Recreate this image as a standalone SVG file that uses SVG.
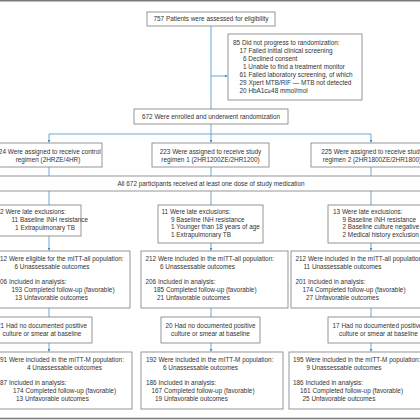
<svg xmlns="http://www.w3.org/2000/svg" width="420" height="420" viewBox="0 0 420 420">
<defs>
<style>
.box{fill:#fff;stroke:#8a8a8a;stroke-width:0.9}
.t{font-family:"Liberation Sans",Arial,sans-serif;font-size:6.4px;fill:#333}
.c{text-anchor:middle}
.ln{stroke:#5a9fd2;stroke-width:0.9;fill:none}
.rule{stroke:#7a7a7a;stroke-width:1.5}
</style>
<marker id="ah" viewBox="0 0 6 6" refX="6" refY="3" markerWidth="3" markerHeight="3" orient="auto" markerUnits="userSpaceOnUse"><path d="M0,0L6,3L0,6z" fill="#3f86bd"/></marker>
</defs>
<rect width="420" height="420" fill="#fff"/>
<line class="rule" x1="0" y1="0.75" x2="420" y2="0.75"/>
<line class="rule" x1="0" y1="418.5" x2="420" y2="418.5"/>

<g id="connectors">
<line class="ln" x1="211" y1="26" x2="211" y2="109"/>
<line class="ln" x1="211" y1="76" x2="227.5" y2="76" marker-end="url(#ah)"/>
<line class="ln" x1="211" y1="124" x2="211" y2="134"/>
<line class="ln" x1="49" y1="134" x2="371" y2="134"/>
<line class="ln" x1="49" y1="134" x2="49" y2="142.5" marker-end="url(#ah)"/>
<line class="ln" x1="211" y1="134" x2="211" y2="142.5" marker-end="url(#ah)"/>
<line class="ln" x1="371" y1="134" x2="371" y2="142.5" marker-end="url(#ah)"/>
<line class="ln" x1="49" y1="167" x2="49" y2="176"/>
<line class="ln" x1="211" y1="167" x2="211" y2="176"/>
<line class="ln" x1="371" y1="167" x2="371" y2="176"/>
<line class="ln" x1="49" y1="191" x2="49" y2="205"/>
<line class="ln" x1="211" y1="191" x2="211" y2="205"/>
<line class="ln" x1="371" y1="191" x2="371" y2="205"/>
<line class="ln" x1="49" y1="236" x2="49" y2="250.5" marker-end="url(#ah)"/>
<line class="ln" x1="211" y1="243" x2="211" y2="250.5" marker-end="url(#ah)"/>
<line class="ln" x1="371" y1="243" x2="371" y2="250.5" marker-end="url(#ah)"/>
<line class="ln" x1="49" y1="308" x2="49" y2="317"/>
<line class="ln" x1="211" y1="308" x2="211" y2="317"/>
<line class="ln" x1="371" y1="308" x2="371" y2="317"/>
<line class="ln" x1="49" y1="343" x2="49" y2="351.5" marker-end="url(#ah)"/>
<line class="ln" x1="211" y1="343" x2="211" y2="351.5" marker-end="url(#ah)"/>
<line class="ln" x1="371" y1="343" x2="371" y2="351.5" marker-end="url(#ah)"/>
</g>

<g id="assessed">
<rect class="box" x="147" y="12" width="128" height="14"/>
<text class="t c" x="211" y="21.2">757 Patients were assessed for eligibility</text>
</g>

<g id="not-randomized">
<rect class="box" x="228" y="34" width="134" height="66"/>
<text class="t" x="233" y="45">85 Did not progress to randomization:</text>
<text class="t" x="239.5" y="53">17 Failed initial clinical screening</text>
<text class="t" x="243" y="61">6 Declined consent</text>
<text class="t" x="243" y="69">1 Unable to find a treatment monitor</text>
<text class="t" x="239.5" y="77">61 Failed laboratory screening, of which</text>
<text class="t" x="239.5" y="85">29 Xpert MTB/RIF — MTB not detected</text>
<text class="t" x="239.5" y="93">20 HbA1c≥48 mmol/mol</text>
</g>

<g id="randomized">
<rect class="box" x="134" y="109" width="154" height="15"/>
<text class="t c" x="211" y="118.7">672 Were enrolled and underwent randomization</text>
</g>

<g id="control">
<rect class="box" x="-6" y="143" width="108" height="24"/>
<text class="t c" x="48" y="154">224 Were assigned to receive control</text>
<text class="t c" x="48" y="162">regimen (2HRZE/4HR)</text>
</g>
<g id="regimen1">
<rect class="box" x="152" y="143" width="117" height="24"/>
<text class="t c" x="210.5" y="154">223 Were assigned to receive study</text>
<text class="t c" x="210.5" y="162">regimen 1 (2HR1200ZE/2HR1200)</text>
</g>
<g id="regimen2">
<rect class="box" x="311" y="143" width="122" height="24"/>
<text class="t c" x="372" y="154">225 Were assigned to receive study</text>
<text class="t c" x="372" y="162">regimen 2 (2HR1800ZE/2HR1800)</text>
</g>

<g id="all-dosed">
<rect class="box" x="-5" y="176" width="430" height="15"/>
<text class="t c" x="211" y="185.7">All 672 participants received at least one dose of study medication</text>
</g>

<g id="late-control">
<rect class="box" x="-6" y="205" width="87" height="31"/>
<text class="t" x="-3.5" y="214">12 Were late exclusions:</text>
<text class="t" x="11.5" y="222">11 Baseline INH resistance</text>
<text class="t" x="15.1" y="230">1 Extrapulmonary TB</text>
</g>
<g id="late-r1">
<rect class="box" x="158" y="205" width="105" height="38"/>
<text class="t" x="161.5" y="214">11 Were late exclusions:</text>
<text class="t" x="171" y="221.7">9 Baseline INH resistance</text>
<text class="t" x="171" y="229.4">1 Younger than 18 years of age</text>
<text class="t" x="171" y="237.1">1 Extrapulmonary TB</text>
</g>
<g id="late-r2">
<rect class="box" x="328" y="205" width="100" height="38"/>
<text class="t" x="333" y="214">13 Were late exclusions:</text>
<text class="t" x="342.5" y="221.7">9 Baseline INH resistance</text>
<text class="t" x="342.5" y="229.4">2 Baseline culture negative</text>
<text class="t" x="342.5" y="237.1">2 Medical history exclusion</text>
</g>

<g id="mitt-all-control">
<rect class="box" x="-8" y="251" width="138" height="57"/>
<text class="t" x="-3.5" y="261">212 Were eligible for the mITT-all population:</text>
<text class="t" x="14.5" y="269">6 Unassessable outcomes</text>
<text class="t" x="-3.5" y="284">206 Included in analysis:</text>
<text class="t" x="11.5" y="292">193 Completed follow-up (favorable)</text>
<text class="t" x="15" y="300">13 Unfavorable outcomes</text>
</g>
<g id="mitt-all-r1">
<rect class="box" x="141" y="251" width="147" height="57"/>
<text class="t" x="145.5" y="261">212 Were included in the mITT-all population:</text>
<text class="t" x="160" y="269">6 Unassessable outcomes</text>
<text class="t" x="145.5" y="284">206 Included in analysis:</text>
<text class="t" x="153.5" y="292">185 Completed follow-up (favorable)</text>
<text class="t" x="157" y="300">21 Unfavorable outcomes</text>
</g>
<g id="mitt-all-r2">
<rect class="box" x="291" y="251" width="140" height="57"/>
<text class="t" x="295.5" y="261">212 Were included in the mITT-all population:</text>
<text class="t" x="303.5" y="269">11 Unassessable outcomes</text>
<text class="t" x="295.5" y="284">201 Included in analysis:</text>
<text class="t" x="302.5" y="292">174 Completed follow-up (favorable)</text>
<text class="t" x="306" y="300">27 Unfavorable outcomes</text>
</g>

<g id="noculture-control">
<rect class="box" x="-8" y="317" width="100" height="26"/>
<text class="t c" x="42" y="328">21 Had no documented positive</text>
<text class="t c" x="42" y="336">culture or smear at baseline</text>
</g>
<g id="noculture-r1">
<rect class="box" x="161" y="317" width="99" height="26"/>
<text class="t c" x="210.5" y="328">20 Had no documented positive</text>
<text class="t c" x="210.5" y="336">culture or smear at baseline</text>
</g>
<g id="noculture-r2">
<rect class="box" x="328" y="317" width="100" height="26"/>
<text class="t" x="332.5" y="328">17 Had no documented positive</text>
<text class="t" x="339" y="336">culture or smear at baseline</text>
</g>

<g id="mitt-m-control">
<rect class="box" x="-8" y="352" width="140" height="57"/>
<text class="t" x="-3.5" y="362">191 Were included in the mITT-M population:</text>
<text class="t" x="27" y="370">4 Unassessable outcomes</text>
<text class="t" x="-3.5" y="385">187 Included in analysis:</text>
<text class="t" x="13" y="393">174 Completed follow-up (favorable)</text>
<text class="t" x="16" y="401">13 Unfavorable outcomes</text>
</g>
<g id="mitt-m-r1">
<rect class="box" x="141" y="352" width="142" height="57"/>
<text class="t" x="146" y="362">192 Were included in the mITT-M population:</text>
<text class="t" x="163" y="370">6 Unassessable outcomes</text>
<text class="t" x="146" y="385">186 Included in analysis:</text>
<text class="t" x="151.5" y="393">167 Completed follow-up (favorable)</text>
<text class="t" x="155" y="401">19 Unfavorable outcomes</text>
</g>
<g id="mitt-m-r2">
<rect class="box" x="289" y="352" width="140" height="57"/>
<text class="t" x="293" y="362">195 Were included in the mITT-M population:</text>
<text class="t" x="306.5" y="370">9 Unassessable outcomes</text>
<text class="t" x="293" y="385">186 Included in analysis:</text>
<text class="t" x="300" y="393">161 Completed follow-up (favorable)</text>
<text class="t" x="302.5" y="401">25 Unfavorable outcomes</text>
</g>
</svg>
